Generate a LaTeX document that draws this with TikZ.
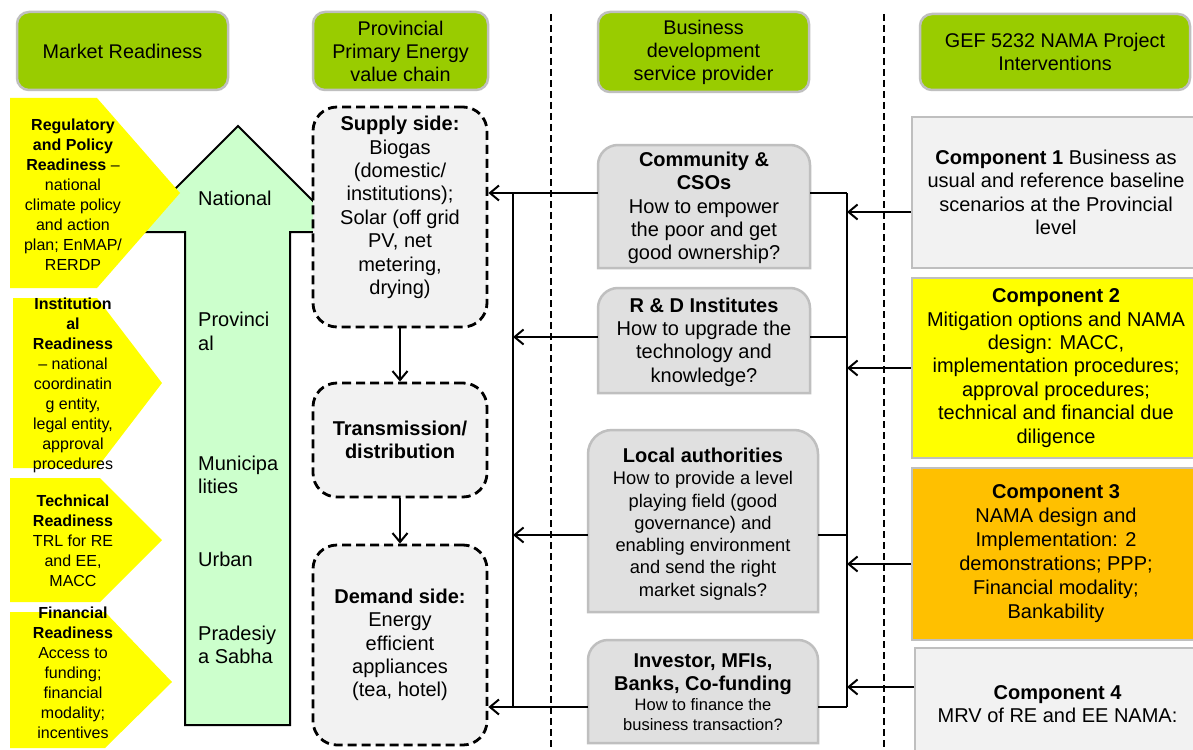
\documentclass[tikz,border=0pt]{standalone}
\usepackage{fontspec}
\setmainfont{Liberation Sans}
\usetikzlibrary{arrows.meta,calc}
\definecolor{hdrgreen}{HTML}{99CC00}
\definecolor{bgray}{HTML}{BFBFBF}
\definecolor{lgray}{HTML}{F2F2F2}
\definecolor{mgray}{HTML}{E0E0E0}
\definecolor{ylw}{HTML}{FFFF00}
\definecolor{orng}{HTML}{FFC000}
\definecolor{lgreen}{HTML}{CCFFCC}
\newcommand\fhdr{\fontsize{19.8}{23}\selectfont}
\newcommand\fbody{\fontsize{20}{23.4}\selectfont}
\newcommand\fsmall{\fontsize{16}{20}\selectfont}
\newcommand\flocal{\fontsize{18.3}{22.3}\selectfont}
\newcommand\finv{\fontsize{16.5}{20}\selectfont}
\begin{document}
\begin{tikzpicture}[x=1pt,y=-1pt,
 hdr/.style={draw=bgray, line width=2.5pt, fill=hdrgreen, rounded corners=12pt, align=center, font=\fhdr, inner sep=0pt},
 chain/.style={draw=black, line width=2.8pt, dash pattern=on 9pt off 5pt, fill=lgray, rounded corners=24pt, minimum width=174pt, align=center, font=\fbody, inner sep=0pt},
 midtxt/.style={align=center, font=\fbody, inner sep=0pt},
 midshape/.style={draw=bgray, line width=2.5pt, fill=mgray},
 comp/.style={draw=bgray, line width=2.5pt, align=center, font=\fbody, inner sep=0pt},
 readytxt/.style={align=center, font=\fsmall, inner sep=0pt},
 lvl/.style={anchor=west, align=left, font=\fbody, inner sep=0pt},
 conn/.style={line width=2pt},
 arr/.style={line width=2pt, -{Straight Barb[length=9pt,width=15pt]}},
 sepline/.style={line width=2.5pt, dash pattern=on 7pt off 4pt},
]
\useasboundingbox (0,0) rectangle (1193,749);
\clip (0,0) rectangle (1193,749);
\fill[white] (0,0) rectangle (1193,749);

% headers
\node[hdr, minimum width=211pt, minimum height=78pt] (hMR) at (122.5,51) {Market Readiness};
\node[hdr, minimum width=175pt, minimum height=78pt] (hPP) at (400.5,51) {Provincial\\Primary Energy\\value chain};
\node[hdr, minimum width=211pt, minimum height=80pt] (hBD) at (703.5,52) {Business\\development\\service provider};
\node[hdr, minimum width=270pt, minimum height=76pt] (hGEF) at (1055,52) {GEF 5232 NAMA Project\\Interventions};

% separators
\coordinate (s1t) at (551,14); \coordinate (s1b) at (551,749);
\coordinate (s2t) at (884,14); \coordinate (s2b) at (884,749);
\draw[sepline] (s1t) -- (s1b);
\draw[sepline] (s2t) -- (s2b);

% green arrow
\draw[line width=2pt, fill=lgreen] (185,725) -- (185,232) -- (132,232) -- (238,126) -- (344,232) -- (290,232) -- (290,725) -- cycle;
\node[lvl] (lNat) at (198,198) {National};
\node[lvl] (lProv) at (198,331.5) {Provinci\\al};
\node[lvl] (lMun) at (198,475) {Municipa\\lities};
\node[lvl] (lUrb) at (198,559) {Urban};
\node[lvl] (lPra) at (198,645) {Pradesiy\\a Sabha};

% readiness pentagons
\fill[ylw] (10,98) -- (97,98) -- (180,193) -- (97,288) -- (10,288) -- cycle;
\fill[ylw] (13,298) -- (97,298) -- (162,383) -- (97,468) -- (13,468) -- cycle;
\fill[ylw] (10,478) -- (100,478) -- (162,540) -- (100,602) -- (10,602) -- cycle;
\fill[ylw] (10,612) -- (105,612) -- (172,682) -- (105,748) -- (10,748) -- cycle;
\node[readytxt] (rReg) at (73,195) {\textbf{Regulatory}\\\textbf{and Policy}\\\textbf{Readiness} –\\national\\climate policy\\and action\\plan; EnMAP/\\RERDP};
\node[readytxt] (rInst) at (73,385) {\textbf{Institution}\\\textbf{al}\\\textbf{Readiness}\\– national\\coordinatin\\g entity,\\legal entity,\\approval\\procedures};
\node[readytxt] (rTech) at (73,541) {\textbf{Technical}\\\textbf{Readiness}\\TRL for RE\\and EE,\\MACC};
\node[readytxt] (rFin) at (73,673) {\textbf{Financial}\\\textbf{Readiness}\\Access to\\funding;\\financial\\modality;\\incentives};

% value chain
\node[chain, minimum height=220pt] (sup) at (400,217) {\textbf{Supply side:}\\Biogas\\(domestic/\\institutions);\\Solar (off grid\\PV, net\\metering,\\drying)\\\mbox{}};
\node[chain, minimum height=114pt] (tra) at (400,440) {\textbf{Transmission/}\\\textbf{distribution}};
\node[chain, minimum height=200pt] (dem) at (400,645) {\textbf{Demand side:}\\Energy\\efficient\\appliances\\(tea, hotel)};
\draw[arr] (sup) -- (tra);
\draw[arr] (tra) -- (dem);

% business development boxes
\path[midshape] (598,268) [rounded corners=20pt] -- (598,145) -- (810,145) [sharp corners] -- (810,268) -- cycle;
\path[midshape] (598,393) [rounded corners=20pt] -- (598,288) -- (810,288) [sharp corners] -- (810,393) -- cycle;
\path[midshape] (588,612) [rounded corners=24pt] -- (588,430) -- (818,430) [sharp corners] -- (818,612) -- cycle;
\path[midshape] (588,743) [rounded corners=20pt] -- (588,640) -- (818,640) [sharp corners] -- (818,743) -- cycle;
\node[midtxt, minimum width=212pt, minimum height=123pt] (com) at (704,208) {\textbf{Community \&}\\\textbf{CSOs}\\How to empower\\the poor and get\\good ownership?};
\node[midtxt, minimum width=212pt, minimum height=105pt] (rd) at (704,342) {\textbf{R \& D Institutes}\\How to upgrade the\\technology and\\knowledge?};
\node[midtxt, font=\flocal, minimum width=230pt, minimum height=182pt] (loc) at (703,524) {{\fontsize{20}{22}\selectfont\bfseries Local authorities}\\How to provide a level\\playing field (good\\governance) and\\enabling environment\\and send the right\\market signals?};
\node[midtxt, font=\finv, minimum width=230pt, minimum height=103pt] (inv) at (703,692.5) {{\fontsize{20}{20}\selectfont\bfseries Investor, MFIs,}\\[3pt]{\fontsize{20}{20}\selectfont\bfseries Banks, Co-funding}\\How to finance the\\business transaction?};

% components
\node[comp, fill=lgray, minimum width=288pt, minimum height=151pt] (c1) at (1056,192.5) {\textbf{Component 1} Business as\\usual and reference baseline\\scenarios at the Provincial\\level};
\node[comp, fill=ylw, minimum width=288pt, minimum height=180pt] (c2) at (1056,368) {\textbf{Component 2}\\Mitigation options and NAMA\\design: MACC,\\implementation procedures;\\approval procedures;\\technical and financial due\\diligence};
\node[comp, fill=orng, font=\fontsize{20}{24}\selectfont, minimum width=288pt, minimum height=172pt] (c3) at (1056,554) {\textbf{Component 3}\\NAMA design and\\Implementation: 2\\demonstrations; PPP;\\Financial modality;\\Bankability};
\node[comp, fill=lgray, minimum width=285pt, minimum height=112pt] (c4) at (1057.5,704) {\textbf{Component 4}\\MRV of RE and EE NAMA:};

% connectors
\coordinate (lbusT) at (513,193); \coordinate (lbusB) at (513,707);
\coordinate (rbusT) at (847,193); \coordinate (rbusB) at (847,707);
\coordinate (comL) at ($(com.west)+(0,-15)$); \coordinate (comR) at ($(com.east)+(0,-15)$);
\coordinate (rdL) at ($(rd.west)+(0,-5)$); \coordinate (rdR) at ($(rd.east)+(0,-5)$);
\coordinate (locL) at ($(loc.west)+(0,11)$); \coordinate (locR) at ($(loc.east)+(0,11)$);
\coordinate (invL) at ($(inv.west)+(0,14.5)$); \coordinate (invR) at ($(inv.east)+(0,14.5)$);
\draw[conn] (lbusT) -- (lbusB);
\draw[conn] (rbusT) -- (rbusB);
\draw[arr] (comL) -- (comL -| sup.east);
\draw[arr] (rdL) -- (rdL -| lbusT);
\draw[arr] (locL) -- (locL -| lbusT);
\draw[arr] (invL) -- (invL -| dem.east);
\draw[conn] (comR) -- (comR -| rbusT);
\draw[conn] (rdR) -- (rdR -| rbusT);
\draw[conn] (locR) -- (locR -| rbusT);
\draw[conn] (invR) -- (invR -| rbusT);
\coordinate (c1p) at ($(c1.west)+(0,19.5)$);
\coordinate (c2p) at (c2.west);
\coordinate (c3p) at ($(c3.west)+(0,10)$);
\coordinate (c4p) at ($(c4.west)+(0,-17)$);
\draw[arr] (c1p) -- (c1p -| rbusT);
\draw[arr] (c2p) -- (c2p -| rbusT);
\draw[arr] (c3p) -- (c3p -| rbusT);
\draw[arr] (c4p) -- (c4p -| rbusT);
\end{tikzpicture}
\end{document}
